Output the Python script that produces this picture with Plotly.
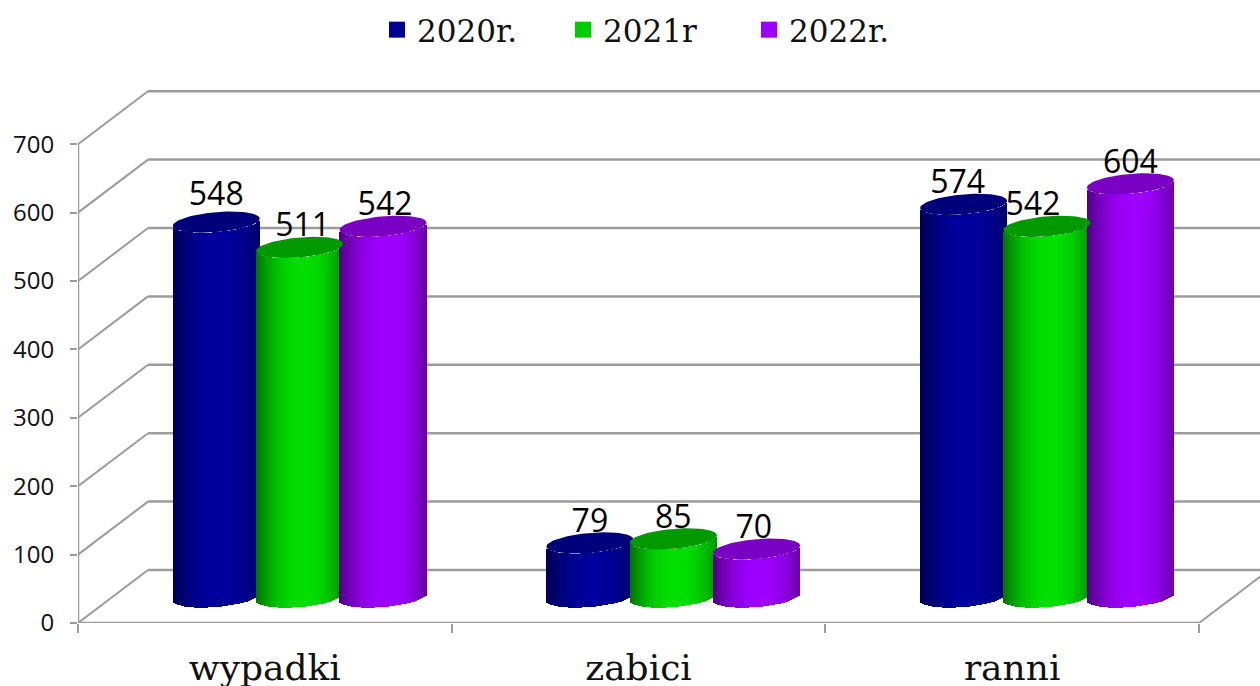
import numpy as np
import plotly.graph_objects as go

# ---- data ----
categories = ["wypadki", "zabici", "ranni"]
series_names = ["2020r.", "2021r", "2022r."]
values_2020 = [548, 79, 574]
values_2021 = [511, 85, 542]
values_2022 = [542, 70, 604]
y_ticks = [0, 100, 200, 300, 400, 500, 600, 700]

# ---- styles ----
LEG = ["#000099", "#00cc00", "#9900ff"]
BRIGHT = [(0, 0, 158), (0, 224, 0), (158, 0, 255)]
CAP = ["#00007a", "#009900", "#7a00c4"]
GRID = "#9c9c9c"
W, H = 1260, 686
L, B = 78, 63
PX_X = 373.67      # px per category
PX_Y = 0.684       # px per value unit
DX, DY = 70 / PX_X, 53 / PX_Y          # depth of the back wall in axis units
HW = 43.5 / PX_X                       # cylinder half width
STEP = 83.4 / PX_X                     # distance between cylinders
GROUP_C = 0.5 + 34.8 / PX_X            # first cylinder group centre shift
BASE = 26 / PX_Y                       # base centre above the floor front
EB, EK = 10.0 / PX_Y, 3.6 / PX_Y       # ellipse minor radius and tilt
NS = 44
# hand placement of the value labels, in pixels (series, category)
LABEL_DX = [[0, 0, -6], [3, 0, -14], [2, -3, 0]]
LABEL_DY = [[6, 0, 0], [0, 0, 0], [0, 0, 0]]

fig = go.Figure()
all_series = [values_2020, values_2021, values_2022]


def shade(rgb, u):
    f = np.clip(1 - 0.42 * np.abs(u - 0.08) ** 2.2, 0, 1)
    return "rgb(%d,%d,%d)" % tuple(int(c * f) for c in rgb)


us = (np.arange(NS) + 0.5) / NS * 2 - 1
for s, vals in enumerate(all_series):
    xs, bases, heights, cols, widths = [], [], [], [], []
    for c, v in enumerate(vals):
        cx = c + GROUP_C + (s - 1) * STEP
        for u in us:
            arc = BASE + EK * u - EB * np.sqrt(1 - u * u)
            xs.append(cx + u * HW)
            bases.append(arc)
            heights.append(v)
            widths.append(2 * HW / NS * 1.15)
            cols.append(shade(BRIGHT[s], u))
    fig.add_trace(go.Bar(x=xs, y=heights, base=bases, width=widths,
                         marker=dict(color=cols, line=dict(width=0)),
                         showlegend=False, hoverinfo="skip"))

for s, vals in enumerate(all_series):
    t = np.linspace(0, 2 * np.pi, 90)
    for c, v in enumerate(vals):
        cx = c + GROUP_C + (s - 1) * STEP
        fig.add_trace(go.Scatter(
            x=cx + HW * np.cos(t),
            y=v + BASE + EB * np.sin(t) + EK * np.cos(t),
            mode="lines", fill="toself", fillcolor=CAP[s],
            line=dict(width=0, color=CAP[s]),
            showlegend=False, hoverinfo="skip"))

for s, vals in enumerate(all_series):
    fig.add_trace(go.Scatter(
        x=[c + GROUP_C + (s - 1) * STEP + LABEL_DX[s][c] / PX_X for c in range(len(vals))],
        y=[v + (45 + LABEL_DY[s][c]) / PX_Y for c, v in enumerate(vals)],
        mode="text", text=[str(v) for v in vals],
        textfont=dict(family="Open Sans", size=32, color="#000000"),
        textposition="middle center", cliponaxis=False,
        showlegend=False, hoverinfo="skip"))

for s, name in enumerate(series_names):
    fig.add_trace(go.Scatter(x=[None], y=[None], mode="markers", name=name,
                             marker=dict(symbol="square", size=16, color=LEG[s])))

# ---- 3D frame, derived from the axis ticks ----
shapes = []
def seg(x0, y0, x1, y1, w=2):
    shapes.append(dict(type="line", xref="x", yref="y", x0=x0, y0=y0, x1=x1, y1=y1,
                       layer="below", line=dict(color=GRID, width=w)))

xmax = (W - L) / PX_X
ncat = len(categories)
for v in y_ticks:
    seg(0, v, DX, v + DY)
    seg(DX, v + DY, xmax, v + DY, 2.5)
seg(0, 0, 0, y_ticks[-1], 2.5)
seg(0, 0, ncat, 0, 2.5)
seg(ncat, 0, ncat + DX, DY)

fig.update_layout(
    width=W, height=H,
    margin=dict(l=L, r=0, t=0, b=B, pad=0, autoexpand=False),
    plot_bgcolor="white", paper_bgcolor="white",
    barmode="overlay", bargap=0,
    shapes=shapes,
    showlegend=True,
    legend=dict(orientation="h", x=(377 - L) / (W - L), xanchor="left",
                y=1 - 3 / (H - B), yanchor="top",
                font=dict(family="DejaVu Serif", size=31, color="#111111"),
                bgcolor="rgba(0,0,0,0)", entrywidth=141, entrywidthmode="pixels",
                traceorder="normal", itemclick=False, itemdoubleclick=False),
    xaxis=dict(range=[0, xmax], showgrid=False, zeroline=False, showline=False,
               automargin=False,
               tickmode="array", tickvals=[i + 0.5 for i in range(ncat)], ticktext=categories,
               ticks="outside", ticklen=0, tickcolor=GRID,
               tickfont=dict(family="DejaVu Serif", size=36, color="#111111"),
               ticklabelstandoff=13,
               minor=dict(tickmode="array", tickvals=list(range(ncat + 1)), ticks="outside",
                          ticklen=9, tickcolor=GRID, tickwidth=2, showgrid=False)),
    yaxis=dict(range=[0, (H - B) / PX_Y], showgrid=False, zeroline=False, showline=False,
               automargin=False,
               tickmode="array", tickvals=y_ticks, ticks="outside", ticklen=7,
               tickcolor=GRID, tickwidth=2, ticklabelstandoff=11,
               tickfont=dict(family="Open Sans", size=24, color="#111111")),
)

fig.write_html("out.html", config={"displayModeBar": False},
               post_script="document.body.style.margin='0';document.documentElement.style.overflow='hidden';")
